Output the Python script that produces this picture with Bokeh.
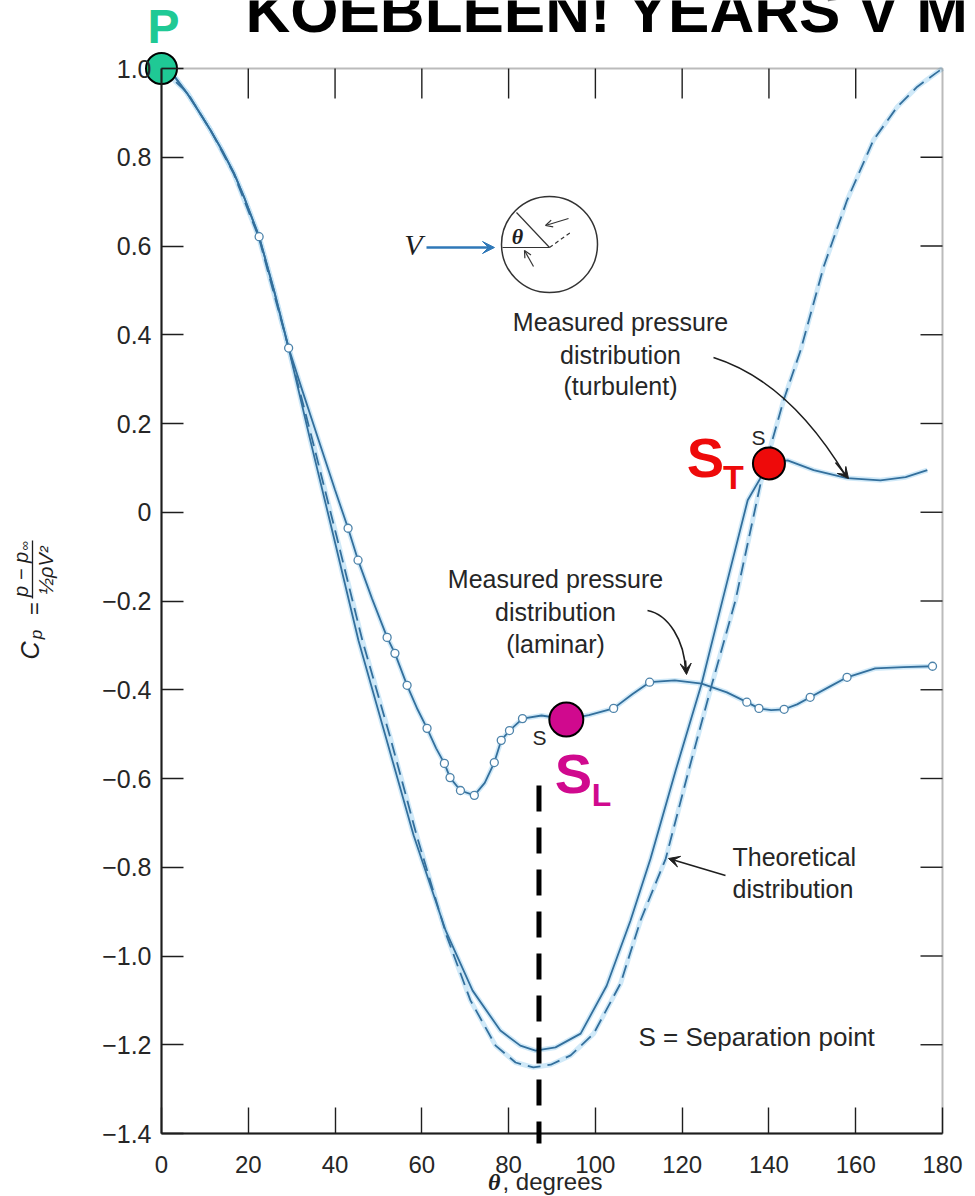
import math
from bokeh.plotting import figure
from bokeh.models import (Range1d, FixedTicker, Label, Arrow, VeeHead, OpenHead,
                          BoxAnnotation, CustomJSTickFormatter)
from bokeh.embed import file_html
from bokeh.resources import INLINE

# ---------------- data ----------------
theo_theta = [0, 6.0, 11.3, 16.6, 22.4, 29.3, 34.8, 40.3, 46.3, 52.6, 58.8, 65.7, 71.2,
              77.0, 81.6, 85.7, 89.7, 94.3, 99.6, 105.8, 110.4, 116.2, 121.5, 126.9,
              132.3, 138.1, 140.8, 143.4, 147.3, 152.6, 158.0, 164.1, 169.6, 174.2, 178.4, 180]
theo_cp = [1.0, 0.945, 0.861, 0.764, 0.620, 0.370, 0.162, -0.052, -0.289, -0.503, -0.728,
           -0.954, -1.100, -1.202, -1.240, -1.251, -1.245, -1.224, -1.175, -1.062, -0.920,
           -0.781, -0.582, -0.386, -0.198, 0.066, 0.163, 0.253, 0.365, 0.553, 0.703, 0.839,
           0.914, 0.959, 0.989, 1.0]

turb_theta = [0, 3.0, 5.9, 8.5, 11.3, 14.0, 16.7, 19.0, 22.5, 25.9, 29.3, 34.3, 39.6, 45.4,
              51.6, 58.1, 65.5, 71.7, 78.1, 82.7, 86.2, 90.8, 96.6, 102.6, 108.1, 112.7,
              118.5, 124.5, 129.3, 135.1, 140.0, 144.3, 150.3, 158.0, 165.7, 171.5, 176.5]
turb_cp = [1.0, 0.982, 0.944, 0.905, 0.861, 0.815, 0.764, 0.711, 0.621, 0.501, 0.370, 0.162,
           -0.052, -0.289, -0.503, -0.728, -0.943, -1.078, -1.168, -1.202, -1.213, -1.206,
           -1.175, -1.067, -0.920, -0.781, -0.582, -0.386, -0.198, 0.027, 0.110, 0.117,
           0.095, 0.077, 0.072, 0.079, 0.095]

lam_theta = [0, 3.0, 5.9, 8.5, 11.3, 14.0, 16.7, 19.0, 22.5, 25.9, 29.3, 32.5, 36.3, 40.0,
             43.0, 45.3, 48.5, 52.0, 53.8, 56.6, 59.0, 61.2, 63.3, 65.2, 66.5, 68.9, 72.1,
             74.5, 76.7, 78.3, 80.2, 83.2, 87.6, 93.3, 98.5, 104.2, 108.5, 112.5, 118.3,
             124.5, 130.3, 134.9, 137.7, 140.5, 143.5, 146.5, 149.5, 154.0, 158.0, 164.5,
             171.0, 177.7]
lam_cp = [1.0, 0.982, 0.944, 0.905, 0.861, 0.815, 0.764, 0.711, 0.621, 0.501, 0.370, 0.273,
          0.160, 0.050, -0.036, -0.108, -0.194, -0.282, -0.318, -0.390, -0.444, -0.487,
          -0.532, -0.566, -0.598, -0.627, -0.638, -0.610, -0.564, -0.514, -0.492, -0.465,
          -0.458, -0.467, -0.457, -0.442, -0.410, -0.383, -0.379, -0.386, -0.406, -0.428,
          -0.442, -0.446, -0.444, -0.433, -0.417, -0.393, -0.372, -0.352, -0.349, -0.347]

lam_meas_theta = [22.5, 29.3, 43.0, 45.3, 52.0, 53.8, 56.6, 61.2, 65.2, 66.5, 68.9, 72.1,
                  76.7, 78.3, 80.2, 83.2, 104.2, 112.5, 134.9, 137.7, 143.5, 149.5, 158.0, 177.7]
lam_meas_cp = [0.621, 0.370, -0.036, -0.108, -0.282, -0.318, -0.390, -0.487, -0.566, -0.598,
               -0.627, -0.638, -0.564, -0.514, -0.492, -0.465, -0.442, -0.383, -0.428, -0.442,
               -0.444, -0.417, -0.372, -0.347]

stag_theta, stag_cp = 0.0, 1.0              # P
sep_lam_theta, sep_lam_cp = 93.3, -0.467    # S_L
sep_turb_theta, sep_turb_cp = 140.0, 0.110  # S_T
marker_line_theta = 87.0

x_ticks = [0, 20, 40, 60, 80, 100, 120, 140, 160, 180]
y_ticks = [1.0, 0.8, 0.6, 0.4, 0.2, 0.0, -0.2, -0.4, -0.6, -0.8, -1.0, -1.2, -1.4]
X_MIN, X_MAX, Y_MIN, Y_MAX = 0, 180, -1.4, 1.0

# ---------------- layout (canvas px) ----------------
W, H = 974, 1195
BOX_L, BOX_R, BOX_T, BOX_B = 161.0, 942.0, 68.0, 1133.0   # data box inside the canvas
SX = (BOX_R - BOX_L) / (X_MAX - X_MIN)
SY = (BOX_B - BOX_T) / (Y_MAX - Y_MIN)
x_range = Range1d(X_MIN - BOX_L / SX, X_MAX + (W - BOX_R) / SX)
y_range = Range1d(Y_MIN - (H - BOX_B) / SY, Y_MAX + BOX_T / SY)


def dx(px):   # reference pixel -> data
    return X_MIN + (px - BOX_L) / SX


def dy(py):
    return Y_MAX - (py - BOX_T) / SY


BLUE = "#336f9c"
GLOW = "#c4e4f6"
INK = "#1e1e1e"
TXT = "#262626"
FONT = "Liberation Sans"

p = figure(width=W, height=H, x_range=x_range, y_range=y_range,
           output_backend="svg", toolbar_location=None, min_border=0,
           background_fill_color="white", border_fill_color="white",
           outline_line_color=None)
p.grid.visible = False

fmt = CustomJSTickFormatter(code="""
if (Math.abs(tick) < 1e-9) { return '0'; }
if (tick < 0) { return '\u2212' + (-tick).toFixed(1); }
return tick.toFixed(1);
""")

xa = p.xaxis[0]
xa.ticker = FixedTicker(ticks=x_ticks)
xa.fixed_location = Y_MIN
xa.bounds = (X_MIN, X_MAX)
ya = p.yaxis[0]
ya.ticker = FixedTicker(ticks=y_ticks)
ya.formatter = fmt
ya.fixed_location = X_MIN
ya.bounds = (Y_MIN, Y_MAX)
for ax, tin, fs in ((xa, 26, "24px"), (ya, 22, "25px")):
    ax.major_tick_in = tin
    ax.major_tick_out = 0
    ax.minor_tick_line_color = None
    ax.axis_line_width = 2
    ax.axis_line_color = INK
    ax.major_tick_line_width = 1.4
    ax.major_tick_line_color = INK
    ax.major_label_text_font = FONT
    ax.major_label_text_font_size = fs
    ax.major_label_text_color = TXT
xa.major_label_standoff = 22
ya.major_label_standoff = 10

# frame box and the inner ticks of the top and right edges
p.add_layout(BoxAnnotation(left=X_MIN, right=X_MAX, bottom=Y_MIN, top=Y_MAX, fill_color=None,
                           line_color=INK, line_width=2))
top_ticks = x_ticks[1:-1]
right_ticks = y_ticks[1:-1]
p.segment(x0=top_ticks, y0=[Y_MAX] * len(top_ticks), x1=top_ticks,
          y1=[Y_MAX - 30 / SY] * len(top_ticks), line_color=INK, line_width=1.4)
p.segment(x0=[X_MAX] * len(right_ticks), y0=right_ticks, x1=[X_MAX - 22 / SX] * len(right_ticks),
          y1=right_ticks, line_color=INK, line_width=1.4)

# ---------------- curves ----------------
for xs, ys in ((theo_theta, theo_cp), (turb_theta, turb_cp), (lam_theta, lam_cp)):
    p.line(xs, ys, line_color=GLOW, line_width=5, line_alpha=0.8)
p.line(theo_theta, theo_cp, line_color=BLUE, line_width=1.8, line_dash="13 7")
p.line(turb_theta, turb_cp, line_color=BLUE, line_width=1.8)
p.line(lam_theta, lam_cp, line_color=BLUE, line_width=1.8)
p.scatter(lam_meas_theta, lam_meas_cp, size=8, fill_color="white", line_color="#4d83aa",
          line_width=1.3)

# separation marker line (overlay)
p.add_layout(Arrow(end=None, x_start=marker_line_theta, y_start=dy(785), x_end=marker_line_theta,
                   y_end=dy(1143), line_color="black", line_width=5, line_dash="26 16"))

# highlighted points
p.scatter([sep_lam_theta], [sep_lam_cp], size=34, fill_color="#d0098e", line_color="black",
          line_width=2)
p.scatter([sep_turb_theta], [sep_turb_cp], size=32, fill_color="#ee0a0a", line_color="black",
          line_width=2)
p.scatter([stag_theta], [stag_cp], size=31, fill_color="#1fc995", line_color="black",
          line_width=2)


def lab(px, py, text, size, color=TXT, font=FONT, style="normal", align="center",
        baseline="middle", angle=0.0):
    p.add_layout(Label(x=dx(px), y=dy(py), text=text, text_font=font, text_font_size=f"{size}px",
                       text_color=color, text_font_style=style, text_align=align,
                       text_baseline=baseline, angle=angle))


# overlay texts (the top one is cut by the page edge, as in the reference)
lab(245, 10, "KOEBLEEN! YEARS V M", 62, color="#000000", style="bold", align="left")
lab(163, 26, "P", 48, color="#1fc995", style="bold")
lab(705, 457, "S", 56, color="#ee0a0a", style="bold")
lab(733, 476, "T", 34, color="#ee0a0a", style="bold")
lab(573, 773, "S", 56, color="#d0098e", style="bold")
lab(601, 794, "L", 32, color="#d0098e", style="bold")

# annotations
for (cy, t) in ((321, "Measured pressure"), (354, "distribution"), (385, "(turbulent)")):
    lab(620, cy, t, 25)
for (cy, t) in ((578, "Measured pressure"), (611, "distribution"), (643, "(laminar)")):
    lab(555, cy, t, 25)
lab(732, 856, "Theoretical", 25, align="left")
lab(732, 888, "distribution", 25, align="left")
lab(638, 1036, "S = Separation point", 26, align="left")
lab(539, 737, "S", 21)
lab(758, 437, "S", 21)

# sphere sketch
lab(413, 244, "V", 30, color=INK, font="Liberation Serif", style="italic")
p.add_layout(Arrow(end=VeeHead(size=12, fill_color="#2f78b8", line_color="#2f78b8"),
                   x_start=dx(426), y_start=dy(247), x_end=dx(494), y_end=dy(247),
                   line_color="#2f78b8", line_width=2.5))
p.scatter([dx(549)], [dy(244)], size=96, fill_color=None, line_color="#333333", line_width=1.5)
p.line([dx(502), dx(549)], [dy(247), dy(247)], line_color="#333333", line_width=1.2)
p.line([dx(549), dx(516)], [dy(247), dy(212)], line_color="#333333", line_width=1.2)
p.line([dx(549), dx(570)], [dy(247), dy(232)], line_color="#333333", line_width=1.2, line_dash="4 3")
lab(517, 236, "θ", 22, color=INK, font="Liberation Serif", style="bold italic")
p.add_layout(Arrow(end=OpenHead(size=7, line_color="#333333", line_width=1.2),
                   x_start=dx(568), y_start=dy(218), x_end=dx(545), y_end=dy(225),
                   line_color="#333333", line_width=1.2))
p.add_layout(Arrow(end=OpenHead(size=7, line_color="#333333", line_width=1.2),
                   x_start=dx(533), y_start=dy(266), x_end=dx(524), y_end=dy(250),
                   line_color="#333333", line_width=1.2))

# curved leader arrows
p.bezier(x0=[dx(713)], y0=[dy(357)], x1=[dx(845)], y1=[dy(475)],
         cx0=[dx(770)], cy0=[dy(375)], cx1=[dx(812)], cy1=[dy(420)], line_color=INK, line_width=1.6)
p.add_layout(Arrow(end=VeeHead(size=11, fill_color=INK, line_color=INK),
                   x_start=dx(835), y_start=dy(462), x_end=dx(848), y_end=dy(478),
                   line_color=INK, line_width=1.6))
p.bezier(x0=[dx(647)], y0=[dy(610)], x1=[dx(685)], y1=[dy(670)],
         cx0=[dx(668)], cy0=[dy(614)], cx1=[dx(684)], cy1=[dy(640)], line_color=INK, line_width=1.6)
p.add_layout(Arrow(end=VeeHead(size=11, fill_color=INK, line_color=INK),
                   x_start=dx(685), y_start=dy(660), x_end=dx(686), y_end=dy(674),
                   line_color=INK, line_width=1.6))
p.add_layout(Arrow(end=VeeHead(size=11, fill_color=INK, line_color=INK),
                   x_start=dx(725), y_start=dy(875), x_end=dx(668), y_end=dy(858),
                   line_color=INK, line_width=1.6))

# y-axis label:  Cp = (p - p_inf) / (1/2 rho V^2)
rot = math.pi / 2
lab(29, 650, "C", 25, color=INK, style="italic", angle=rot)
lab(36, 634, "p", 17, color=INK, style="italic", angle=rot)
lab(34, 608, "=", 22, color=INK, angle=rot)
lab(20, 574, "p − p", 20, color=INK, style="italic", angle=rot)
lab(24, 545, "∞", 13, color=INK, angle=rot)
p.line([dx(32), dx(32)], [dy(540), dy(598)], line_color=INK, line_width=1.3)
lab(45, 570, "½ρV²", 20, color=INK, style="italic", angle=rot)

# x-axis label
lab(500, 1181, "θ", 24, color=INK, font="Liberation Serif", style="bold italic", align="right")
lab(502, 1181, ", degrees", 24, color=TXT, align="left")

open("out.html", "w").write(file_html(p, INLINE))
